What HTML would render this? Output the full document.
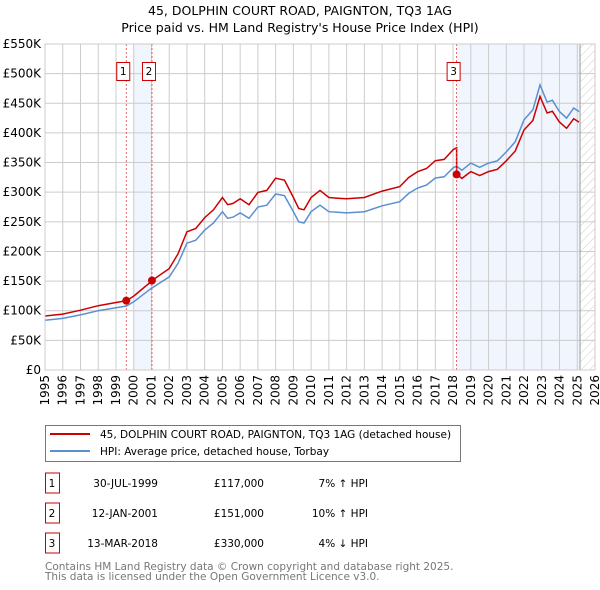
<!DOCTYPE html>
<html><head><meta charset="utf-8"><style>
body{margin:0;background:#fff;}
svg{display:block;font-family:"DejaVu Sans","Liberation Sans",sans-serif;}
</style></head><body>
<svg id="chart" width="600" height="590" viewBox="0 0 600 590" xmlns="http://www.w3.org/2000/svg">
<defs><pattern id="hatch" width="6" height="6" patternUnits="userSpaceOnUse" patternTransform="rotate(45)"><line x1="0" y1="0" x2="0" y2="6" stroke="#ccc" stroke-width="1"/></pattern></defs>
<text x="300" y="15" text-anchor="middle" font-size="12.5">45, DOLPHIN COURT ROAD, PAIGNTON, TQ3 1AG</text>
<text x="300" y="32" text-anchor="middle" font-size="12.5">Price paid vs. HM Land Registry's House Price Index (HPI)</text>
<g id="plot"></g>
<g>
<rect x="45.5" y="425.5" width="415" height="36" fill="#fff" stroke="#777"/>
<line x1="50" y1="434" x2="90" y2="434" stroke="#cc0000" stroke-width="2"/>
<text x="100" y="438" font-size="10.5">45, DOLPHIN COURT ROAD, PAIGNTON, TQ3 1AG (detached house)</text>
<line x1="50" y1="451" x2="90" y2="451" stroke="#5b8fd0" stroke-width="2"/>
<text x="100" y="455" font-size="10.5">HPI: Average price, detached house, Torbay</text>
</g>
<g id="table" font-size="10.5"></g>
<text x="45" y="570" font-size="10.5" fill="#777">Contains HM Land Registry data © Crown copyright and database right 2025.</text>
<text x="45" y="580" font-size="10.5" fill="#777">This data is licensed under the Open Government Licence v3.0.</text>
</svg>
<script>
const hpiYears=[1995,1996,1997,1998,1999,1999.6,2000,2001,2002,2002.5,2003,2003.5,2004,2004.5,2005,2005.3,2005.6,2006,2006.5,2007,2007.5,2008,2008.5,2009,2009.3,2009.6,2010,2010.5,2011,2011.5,2012,2013,2014,2015,2015.5,2016,2016.5,2017,2017.5,2018,2018.2,2018.5,2019,2019.5,2020,2020.5,2021,2021.5,2022,2022.5,2022.9,2023.3,2023.6,2024,2024.4,2024.8,2025.1];
const hpiValues=[84,87,93,100,105,108,115,138,157,180,214,219,236,248,267,256,258,265,256,275,278,297,294,267,250,248,267,278,267,266,265,267,277,284,298,307,312,324,326,341,344,337,349,342,349,353,368,385,422,439,481,452,455,436,425,442,436];
const saleYears=[1999.58,2001.03,2018.2];
const salePrices=[117,151,330];
const saleLabels=["1","2","3"];
const saleDates=["30-JUL-1999","12-JAN-2001","13-MAR-2018"];
const saleText=["£117,000","£151,000","£330,000"];
const saleDiff=["7% ↑ HPI","10% ↑ HPI","4% ↓ HPI"];
const yTicks=[0,50,100,150,200,250,300,350,400,450,500,550];
const xTicks=[];for(let y=1995;y<=2026;y++)xTicks.push(y);

const X0=45,X1=595,Y0=370,Y1=44;
const xs=y=>X0+(y-1995)*(X1-X0)/31;
const ys=v=>Y0-v*(Y0-Y1)/550;
const NS="http://www.w3.org/2000/svg";
const plot=document.getElementById('plot');
function mk(tag,a,p){const e=document.createElementNS(NS,tag);for(const k in a)e.setAttribute(k,a[k]);(p||plot).appendChild(e);return e;}
function hpiAt(t){for(let i=0;i<hpiYears.length-1;i++){if(t<=hpiYears[i+1]){const f=(t-hpiYears[i])/(hpiYears[i+1]-hpiYears[i]);return hpiValues[i]+f*(hpiValues[i+1]-hpiValues[i]);}}return hpiValues[hpiValues.length-1];}

let r=mk('rect',{x:xs(2000),y:Y1,width:xs(saleYears[1])-xs(2000),height:Y0-Y1,fill:'#f1f5fd'});

const lastX=xs(hpiYears[hpiYears.length-1])+1;
r=mk('rect',{x:xs(saleYears[2]),y:Y1,width:lastX-xs(saleYears[2]),height:Y0-Y1,fill:'#f1f5fd'});

r=mk('rect',{x:lastX,y:Y1,width:X1-lastX,height:Y0-Y1,fill:'url(#hatch)'});


yTicks.forEach(v=>{
 const l=mk('line',{x1:X0,x2:X1,y1:ys(v),y2:ys(v),stroke:'#cccccc'});
 
 const t=mk('text',{x:X0-4,y:ys(v)+4,'text-anchor':'end','font-size':'12'});
 
 t.textContent=v===0?'£0':'£'+v+'K';
});
xTicks.forEach(y=>{
 const l=mk('line',{x1:xs(y),x2:xs(y),y1:Y1,y2:Y0,stroke:'#cccccc'});
 
 const t=mk('text',{x:0,y:0,'text-anchor':'end','font-size':'12',transform:`translate(${xs(y)+4},${Y0+5}) rotate(-90)`});
 
 t.textContent=y;
});
let ax=mk('line',{x1:lastX,x2:lastX,y1:Y1,y2:Y0,stroke:'#999'});


let d=hpiYears.map((y,i)=>(i?'L':'M')+xs(y).toFixed(1)+','+ys(hpiValues[i]).toFixed(1)).join('');
let p=mk('path',{d:d,fill:'none',stroke:'#5b8fd0','stroke-width':1.5});

const ratios=salePrices.map((s,i)=>s/hpiAt(saleYears[i]));
let pts=[];
hpiYears.forEach((y,i)=>{let k=0;if(y>=saleYears[2])k=2;else if(y>=saleYears[1])k=1;pts.push([y,hpiValues[i]*ratios[k]]);});
saleYears.forEach((y,i)=>{pts.push([y-0.001,hpiAt(y)*ratios[Math.max(0,i-1)]]);pts.push([y,salePrices[i]]);});
pts.sort((a,b)=>a[0]-b[0]);
d=pts.map((q,i)=>(i?'L':'M')+xs(q[0]).toFixed(1)+','+ys(q[1]).toFixed(1)).join('');
p=mk('path',{d:d,fill:'none',stroke:'#cc0000','stroke-width':1.5});


saleYears.forEach((y,i)=>{
 const l=mk('line',{x1:xs(y),x2:xs(y),y1:Y1,y2:Y0,stroke:'#dd4444','stroke-dasharray':'2,2','stroke-width':0.8});
 
 const c=mk('circle',{cx:xs(y),cy:ys(salePrices[i]),r:4,fill:'#cc0000'});
 
 const bx=mk('rect',{x:xs(y)-9.5,y:62.5,width:13,height:18,fill:'#fff',stroke:'#cc0000'});
 
 const t=mk('text',{x:xs(y)-3,y:75,'text-anchor':'middle','font-size':'10.5'});
 
 t.textContent=saleLabels[i];
});
let border=mk('rect',{x:X0,y:Y1,width:X1-X0,height:Y0-Y1,fill:'none',stroke:'#cccccc'});


const tb=document.getElementById('table');
saleLabels.forEach((s,i)=>{
 const cy=[483,513,543][i];
 const b=mk('rect',{x:45.5,y:cy-10,width:14,height:20,fill:'#fff',stroke:'#cc0000'},tb);
 
 const cells=[[52,'middle',s],[158,'end',saleDates[i]],[264,'end',saleText[i]],[368,'end',saleDiff[i]]];
 cells.forEach(c=>{const t=mk('text',{x:c[0],y:cy+4,'text-anchor':c[1]},tb);
  t.textContent=c[2];});
});
</script>
</body></html>
